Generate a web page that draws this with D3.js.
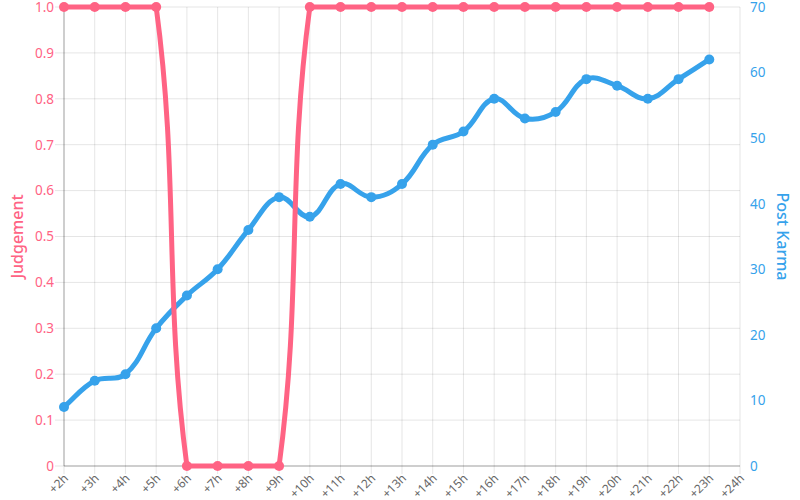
<!DOCTYPE html>
<html>
<head>
<meta charset="utf-8">
<script src="https://cdn.jsdelivr.net/npm/d3@7"></script>
<style>
  body { margin: 0; background: #fff; }
  text { font-family: "Noto Sans", "Liberation Sans", sans-serif; }
</style>
</head>
<body>
<div class="chart"></div>
<script>
var hours = ["+2h","+3h","+4h","+5h","+6h","+7h","+8h","+9h","+10h","+11h","+12h","+13h",
             "+14h","+15h","+16h","+17h","+18h","+19h","+20h","+21h","+22h","+23h","+24h"];
var judgement = [1,1,1,1,0,0,0,0,1,1,1,1,1,1,1,1,1,1,1,1,1,1];
var karma = [9,13,14,21,26,30,36,41,38,43,41,43,49,51,56,53,54,59,58,56,59,62];
var judgementTicks = [0,0.1,0.2,0.3,0.4,0.5,0.6,0.7,0.8,0.9,1.0];
var karmaTicks = [0,10,20,30,40,50,60,70];

var W = 800, H = 500;
var area = {left: 64, right: 740, top: 7, bottom: 466};
var red = "#ff6384", blue = "#36a2eb";

var svg = d3.select(".chart").append("svg")
    .attr("width", W).attr("height", H);

var x = d3.scalePoint().domain(hours).range([area.left, area.right]);
var yL = d3.scaleLinear().domain([0, 1]).range([area.bottom, area.top]);
var yR = d3.scaleLinear().domain([0, 70]).range([area.bottom, area.top]);

// grid
svg.append("g").selectAll("line")
    .data(judgementTicks).enter().append("line")
    .attr("x1", area.left - 9).attr("x2", area.right)
    .attr("y1", function(d) { return yL(d); })
    .attr("y2", function(d) { return yL(d); })
    .attr("stroke", "rgba(0,0,0,0.1)");

svg.append("g").selectAll("line")
    .data(hours).enter().append("line")
    .attr("x1", function(d) { return x(d); })
    .attr("x2", function(d) { return x(d); })
    .attr("y1", area.top).attr("y2", area.bottom + 8)
    .attr("stroke", "rgba(0,0,0,0.1)");

// axis lines
svg.append("line")
    .attr("x1", area.left).attr("x2", area.left)
    .attr("y1", area.top).attr("y2", area.bottom)
    .attr("stroke", "rgba(0,0,0,0.3)");
svg.append("line")
    .attr("x1", area.left).attr("x2", area.right)
    .attr("y1", area.bottom).attr("y2", area.bottom)
    .attr("stroke", "rgba(0,0,0,0.3)");

// tick labels
svg.append("g").selectAll("text")
    .data(judgementTicks).enter().append("text")
    .attr("x", area.left - 10)
    .attr("y", function(d) { return yL(d); })
    .attr("dy", "0.36em")
    .attr("text-anchor", "end")
    .attr("fill", red)
    .attr("font-size", "13.5px")
    .text(function(d) { return d === 0 ? "0" : d.toFixed(1); });

svg.append("g").selectAll("text")
    .data(karmaTicks).enter().append("text")
    .attr("x", area.right + 10)
    .attr("y", function(d) { return yR(d); })
    .attr("dy", "0.36em")
    .attr("fill", blue)
    .attr("font-size", "13.5px")
    .text(function(d) { return d; });

svg.append("g").selectAll("text")
    .data(hours).enter().append("text")
    .attr("transform", function(d) { return "translate(" + (x(d) + 5) + "," + (area.bottom + 13) + ") rotate(-45)"; })
    .attr("text-anchor", "end")
    .attr("fill", "#666")
    .attr("font-size", "12px")
    .text(function(d) { return d; });

// axis titles
svg.append("text")
    .attr("transform", "translate(23," + (area.top + area.bottom) / 2 + ") rotate(-90)")
    .attr("text-anchor", "middle")
    .attr("fill", red)
    .attr("font-family", "Roboto, sans-serif")
    .attr("font-size", "16px")
    .attr("font-weight", "500")
    .text("Judgement");

svg.append("text")
    .attr("transform", "translate(777," + (area.top + area.bottom) / 2 + ") rotate(90)")
    .attr("text-anchor", "middle")
    .attr("fill", blue)
    .attr("font-family", "Roboto, sans-serif")
    .attr("font-size", "16px")
    .attr("font-weight", "500")
    .text("Post Karma");

// chart.js-like spline with tension 0.4
function splinePath(pts) {
    var t = 0.4, cps = [];
    function clamp(v, a, b) { return Math.max(a, Math.min(b, v)); }
    pts.forEach(function(p, i) {
        var p0 = pts[i - 1] || p, p2 = pts[i + 1] || p;
        var d01 = Math.hypot(p.x - p0.x, p.y - p0.y);
        var d12 = Math.hypot(p2.x - p.x, p2.y - p.y);
        var s01 = d01 / (d01 + d12) || 0, s12 = d12 / (d01 + d12) || 0;
        var fa = t * s01, fb = t * s12;
        cps.push({
            px: clamp(p.x - fa * (p2.x - p0.x), area.left, area.right),
            py: clamp(p.y - fa * (p2.y - p0.y), area.top, area.bottom),
            nx: clamp(p.x + fb * (p2.x - p0.x), area.left, area.right),
            ny: clamp(p.y + fb * (p2.y - p0.y), area.top, area.bottom)
        });
    });
    var path = d3.path();
    path.moveTo(pts[0].x, pts[0].y);
    for (var i = 1; i < pts.length; i++) {
        path.bezierCurveTo(cps[i - 1].nx, cps[i - 1].ny, cps[i].px, cps[i].py, pts[i].x, pts[i].y);
    }
    return path.toString();
}

function drawSeries(values, y, color) {
    var pts = values.map(function(v, i) { return {x: x(hours[i]), y: y(v)}; });
    var g = svg.append("g");
    g.append("path")
        .attr("d", splinePath(pts))
        .attr("fill", "none")
        .attr("stroke", color)
        .attr("stroke-width", 5);
    g.selectAll("circle")
        .data(pts).enter().append("circle")
        .attr("cx", function(d) { return d.x; })
        .attr("cy", function(d) { return d.y; })
        .attr("r", 5)
        .attr("fill", color);
}

drawSeries(karma, yR, blue);
drawSeries(judgement, yL, red);
</script>
</body>
</html>
